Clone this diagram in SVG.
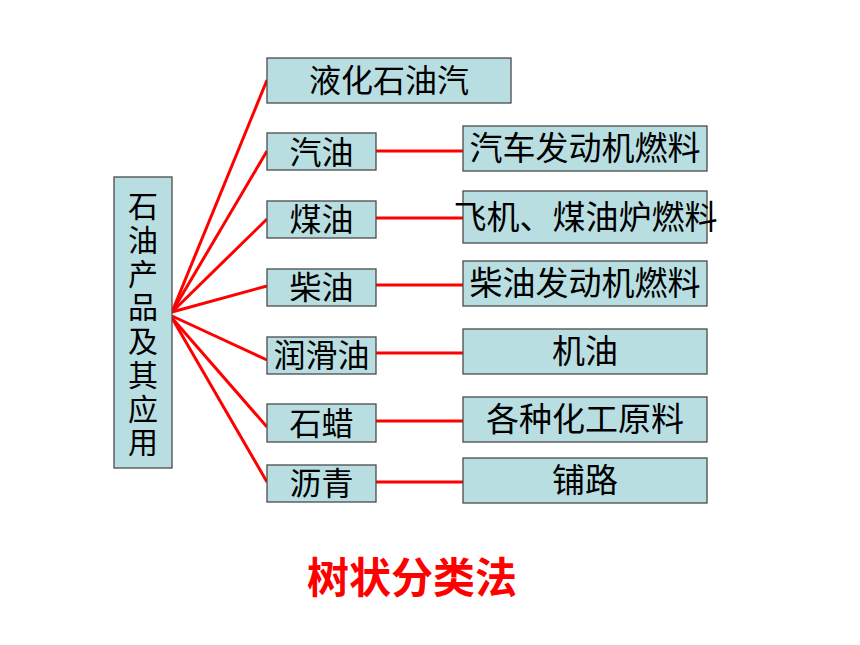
<svg xmlns="http://www.w3.org/2000/svg" width="860" height="645" viewBox="0 0 860 645">
<style>
.box{fill:#B9DEE2;stroke:#4a4a4a;stroke-width:1.3}
.t{font-family:"Noto Sans CJK SC","Noto Sans CJK JP",sans-serif;font-size:32px;fill:#000;text-anchor:middle}
.r{font-family:"Noto Sans CJK SC","Noto Sans CJK JP",sans-serif;font-size:33px;fill:#000;text-anchor:middle}
.v{font-family:"Noto Sans CJK SC","Noto Sans CJK JP",sans-serif;font-size:30px;fill:#000;writing-mode:vertical-rl;letter-spacing:3.7px}
.c{stroke:#FF0000;stroke-width:3;fill:none}
.title{font-family:"Noto Sans CJK SC","Noto Sans CJK JP",sans-serif;font-size:42px;font-weight:bold;fill:#FF0000;text-anchor:middle}
</style>
<rect width="860" height="645" fill="#FFFFFF"/>
<g id="connectors">
<line class="c" x1="172" y1="312" x2="267" y2="80"/>
<line class="c" x1="172" y1="312" x2="267" y2="151"/>
<line class="c" x1="172" y1="312" x2="267" y2="219"/>
<line class="c" x1="172" y1="312" x2="267" y2="286"/>
<line class="c" x1="172" y1="316" x2="267" y2="360"/>
<line class="c" x1="172" y1="318" x2="267" y2="427"/>
<line class="c" x1="172" y1="318" x2="267" y2="482"/>
<line class="c" x1="376" y1="151" x2="463" y2="151"/>
<line class="c" x1="376" y1="218" x2="463" y2="218"/>
<line class="c" x1="376" y1="285" x2="463" y2="285"/>
<line class="c" x1="376" y1="353" x2="463" y2="353"/>
<line class="c" x1="376" y1="421" x2="463" y2="421"/>
<line class="c" x1="376" y1="482" x2="463" y2="482"/>
</g>
<g id="root">
<rect class="box" x="114" y="177" width="58" height="291"/>
<text class="v" x="143" y="191">石油产品及其应用</text>
</g>
<g id="n-lpg"><rect class="box" x="267" y="58" width="244" height="45"/><text class="t" x="389" y="92">液化石油汽</text></g>
<g id="n-gasoline"><rect class="box" x="267" y="133" width="109" height="37"/><text class="t" x="321.5" y="164">汽油</text></g>
<g id="n-kerosene"><rect class="box" x="267" y="201" width="109" height="37"/><text class="t" x="321.5" y="231">煤油</text></g>
<g id="n-diesel"><rect class="box" x="267" y="269" width="109" height="37"/><text class="t" x="321.5" y="299">柴油</text></g>
<g id="n-lube"><rect class="box" x="267" y="337" width="109" height="37"/><text class="t" x="321.5" y="367">润滑油</text></g>
<g id="n-wax"><rect class="box" x="267" y="404" width="109" height="38"/><text class="t" x="321.5" y="435">石蜡</text></g>
<g id="n-asphalt"><rect class="box" x="267" y="465" width="109" height="37"/><text class="t" x="321.5" y="495">沥青</text></g>
<g id="u-car"><rect class="box" x="463" y="126" width="244" height="45"/><text class="r" x="585" y="160">汽车发动机燃料</text></g>
<g id="u-plane"><rect class="box" x="463" y="191" width="244" height="52"/><text class="r" x="585.5" y="229">飞机、煤油炉燃料</text></g>
<g id="u-dieselengine"><rect class="box" x="463" y="261" width="244" height="45"/><text class="r" x="585" y="295">柴油发动机燃料</text></g>
<g id="u-motoroil"><rect class="box" x="463" y="329" width="244" height="45"/><text class="r" x="585" y="363">机油</text></g>
<g id="u-chem"><rect class="box" x="463" y="397" width="244" height="45"/><text class="r" x="585" y="431">各种化工原料</text></g>
<g id="u-road"><rect class="box" x="463" y="458" width="244" height="45"/><text class="r" x="585" y="492">铺路</text></g>
<text class="title" x="412" y="593">树状分类法</text>
</svg>
